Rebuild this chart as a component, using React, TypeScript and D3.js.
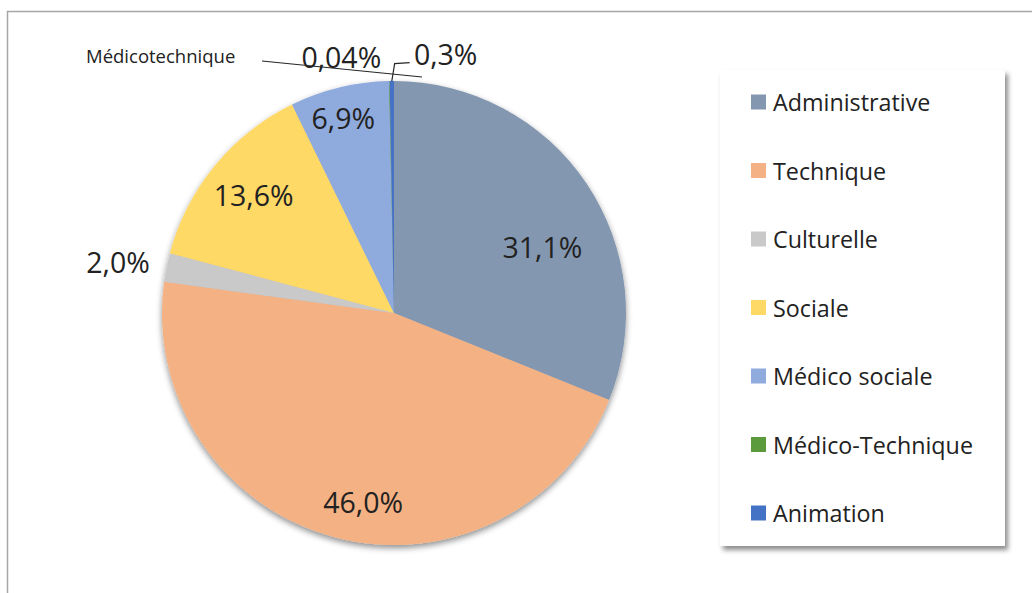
import React from "react";
import * as d3 from "d3";

const categories = ["Administrative", "Technique", "Culturelle", "Sociale", "Médico sociale", "Médico-Technique", "Animation"];
const values = [31.1, 46.0, 2.0, 13.6, 6.9, 0.04, 0.3];
const valueLabels = ["31,1%", "46,0%", "2,0%", "13,6%", "6,9%", "0,04%", "0,3%"];
const colors = ["#8497B0", "#F4B183", "#C9C9C9", "#FFD966", "#8FAADC", "#5B9B3D", "#4472C4"];
const annotationText = "Médicotechnique";

// label layout: radius factor and angular nudge (degrees) relative to slice mid-angle
const labelLayout = [
  { r: 0.70, dA: 10 },
  { r: 0.825, dA: -5.6 },
  { r: 1.21, dA: -0.8 },
  { r: 0.79, dA: 0.6 },
  { r: 0.87, dA: -0.9 },
  { r: 1.125, dA: -10.5 },
  { r: 1.14, dA: 11.8 },
];

const W = 1032;
const H = 593;
const cx = 394;
const cy = 313;
const R = 232;
const FONT = "'Open Sans', 'Noto Sans', sans-serif";
const TEXT = "#222222";

export default function App() {
  const pie = d3.pie<number>().sort(null).value((d) => d);
  const arcs = pie(values);
  const arc = d3.arc<d3.PieArcDatum<number>>().innerRadius(0).outerRadius(R);

  const polar = (angleRad: number, r: number): [number, number] => [
    Math.sin(angleRad) * r,
    -Math.cos(angleRad) * r,
  ];

  const labelPos = arcs.map((a, i) => {
    const mid = (a.startAngle + a.endAngle) / 2 + (labelLayout[i].dA * Math.PI) / 180;
    return polar(mid, R * labelLayout[i].r);
  });

  // leader for Animation label
  const anim = arcs[6];
  const animMid = (anim.startAngle + anim.endAngle) / 2;
  const leadStart = polar(animMid, R);
  const lp = labelPos[6];
  const leadEnd: [number, number] = [lp[0] - 36, lp[1] + 9];
  const leadBend: [number, number] = [leadEnd[0] - 15, leadEnd[1] + 1];

  const legendX = 720;
  const legendY = 70;
  const legendW = 285;
  const legendH = 476;
  const rowY = d3.scalePoint<string>().domain(categories).range([legendY + 32, legendY + 443]);

  return (
    <div style={{ position: "fixed", left: 0, top: 0, width: W, height: H, background: "#fff" }}>
      <svg width={W} height={H} style={{ display: "block" }}>
        <defs>
          <filter id="pieShadow" x="-20%" y="-20%" width="140%" height="140%">
            <feDropShadow dx="0" dy="3" stdDeviation="3" floodColor="#000" floodOpacity="0.45" />
          </filter>
          <filter id="legShadow" x="-20%" y="-20%" width="140%" height="140%">
            <feDropShadow dx="3" dy="4" stdDeviation="2.5" floodColor="#000" floodOpacity="0.45" />
          </filter>
        </defs>
        <rect x={0} y={0} width={W} height={H} fill="#fff" />
        <rect x={7.5} y={11.5} width={1200} height={800} fill="#fff" stroke="#a6a6a6" strokeWidth={1.5} />

        <g transform={`translate(${cx},${cy})`}>
          <g filter="url(#pieShadow)">
            {arcs.map((a, i) => (
              <path key={i} d={arc(a) || ""} fill={colors[i]} />
            ))}
          </g>
          <polyline
            points={[leadStart, leadBend, leadEnd].map((p) => p.join(",")).join(" ")}
            fill="none"
            stroke="#262626"
            strokeWidth={1.2}
          />
          {arcs.map((a, i) => (
            <text
              key={i}
              x={labelPos[i][0]}
              y={labelPos[i][1]}
              textAnchor="middle"
              dominantBaseline="central"
              fontFamily={FONT}
              fontSize={28.5}
              fill={TEXT}
            >
              {valueLabels[i]}
            </text>
          ))}
        </g>

        <text x={86} y={55} dominantBaseline="central" fontFamily={FONT} fontSize={18.5} fill={TEXT}>
          {annotationText}
        </text>
        <line x1={262} y1={61} x2={422} y2={77} stroke="#262626" strokeWidth={1.2} />

        <rect x={legendX} y={legendY} width={legendW} height={legendH} fill="#fff" filter="url(#legShadow)" />
        {categories.map((c, i) => (
          <g key={c} transform={`translate(${legendX + 31},${rowY(c)})`}>
            <rect x={0} y={-7.5} width={15} height={15} fill={colors[i]} />
            <text x={22} y={0} dominantBaseline="central" fontFamily={FONT} fontSize={23.3} fill={TEXT}>
              {c}
            </text>
          </g>
        ))}
      </svg>
    </div>
  );
}
